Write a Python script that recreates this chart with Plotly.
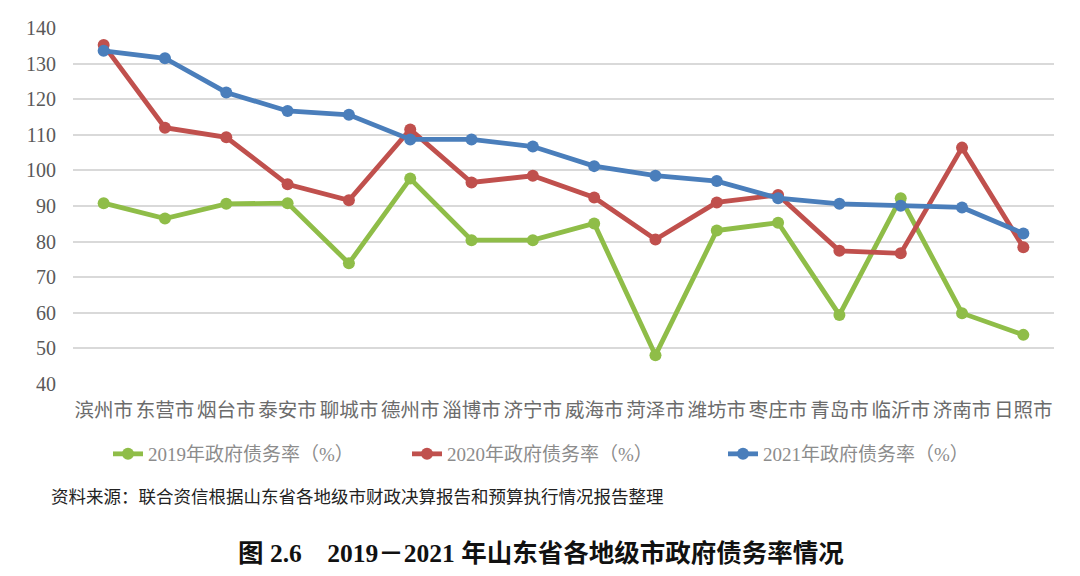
import plotly.graph_objects as go

cities = ["滨州市", "东营市", "烟台市", "泰安市", "聊城市", "德州市", "淄博市", "济宁市",
          "威海市", "菏泽市", "潍坊市", "枣庄市", "青岛市", "临沂市", "济南市", "日照市"]
rate_2019 = [90.8, 86.5, 90.6, 90.8, 73.9, 97.7, 80.4, 80.4, 85.1, 48.1, 83.1, 85.3, 59.4, 92.2, 59.9, 53.8]
rate_2020 = [135.2, 112.0, 109.3, 96.1, 91.6, 111.5, 96.6, 98.5, 92.4, 80.6, 91.0, 93.1, 77.4, 76.7, 106.4, 78.4]
rate_2021 = [133.6, 131.5, 121.9, 116.7, 115.6, 108.7, 108.7, 106.7, 101.2, 98.5, 97.0, 92.2, 90.6, 90.1, 89.6, 82.3]
series_names = ["2019年政府债务率（%）", "2020年政府债务率（%）", "2021年政府债务率（%）"]
y_ticks = [40, 50, 60, 70, 80, 90, 100, 110, 120, 130, 140]

colors = ["#8fbd48", "#c0504d", "#4a7ebb"]
OFF = 8  # default page body margin
W, H = 1080 - OFF, 576 - OFF
L, T = 73 - OFF, 28 - OFF
pw, ph = 981, 356
R, B = W - L - pw, H - T - ph

def px_x(p):
    return (p - OFF - L) / pw

def px_y(p):
    return (T + ph - (p - OFF)) / ph

fig = go.Figure()
legend_ids = ["legend", "legend2", "legend3"]
for vals, name, col, lg in zip([rate_2019, rate_2020, rate_2021], series_names, colors, legend_ids):
    fig.add_trace(go.Scatter(
        x=cities, y=vals, name=name, mode="lines+markers",
        line=dict(color=col, width=4.8),
        marker=dict(color=col, size=12),
        legend=lg,
    ))

legend_font = dict(family="Liberation Serif, Noto Sans CJK SC", size=19, color="#8c8c8c")
legend_x = [108, 407, 723]
layout_legends = {}
for lg, xp in zip(legend_ids, legend_x):
    layout_legends[lg] = dict(
        x=px_x(xp), y=px_y(454), xanchor="left", yanchor="middle",
        orientation="h", font=legend_font, bgcolor="rgba(0,0,0,0)",
        borderwidth=0, itemwidth=30,
    )

fig.update_layout(
    width=W, height=H,
    margin=dict(l=L, r=R, t=T, b=B, autoexpand=False),
    paper_bgcolor="white", plot_bgcolor="white",
    showlegend=True,
    **layout_legends,
    xaxis=dict(
        type="category", range=[-0.5, len(cities) - 0.5],
        showgrid=False, showline=False, zeroline=False,
        ticks="", tickangle=0, automargin=False,
        tickfont=dict(family="Noto Sans CJK SC", size=19.5, color="#6b6b6b"),
        ticklabelstandoff=12,
    ),
    yaxis=dict(
        range=[40, 140], tickvals=y_ticks, showgrid=True, gridcolor="#d9d9d9", gridwidth=1.5,
        zeroline=False, showline=False, ticks="", automargin=False,
        tickfont=dict(family="Liberation Serif", size=20, color="#595959"),
        ticklabelstandoff=16,
    ),
)

fig.add_annotation(
    text="资料来源：联合资信根据山东省各地级市财政决算报告和预算执行情况报告整理",
    xref="paper", yref="paper", x=px_x(49), y=px_y(495),
    xanchor="left", yanchor="middle", showarrow=False,
    font=dict(family="Noto Sans CJK SC", size=17.5, color="#222222"),
)
fig.add_annotation(
    text="<b>图 2.6　2019－2021 年山东省各地级市政府债务率情况</b>",
    xref="paper", yref="paper", x=px_x(541), y=px_y(553),
    xanchor="center", yanchor="middle", showarrow=False,
    font=dict(family="Liberation Serif, Noto Sans CJK SC", size=25.5, color="#111111"),
)

fig.write_html("out.html")
